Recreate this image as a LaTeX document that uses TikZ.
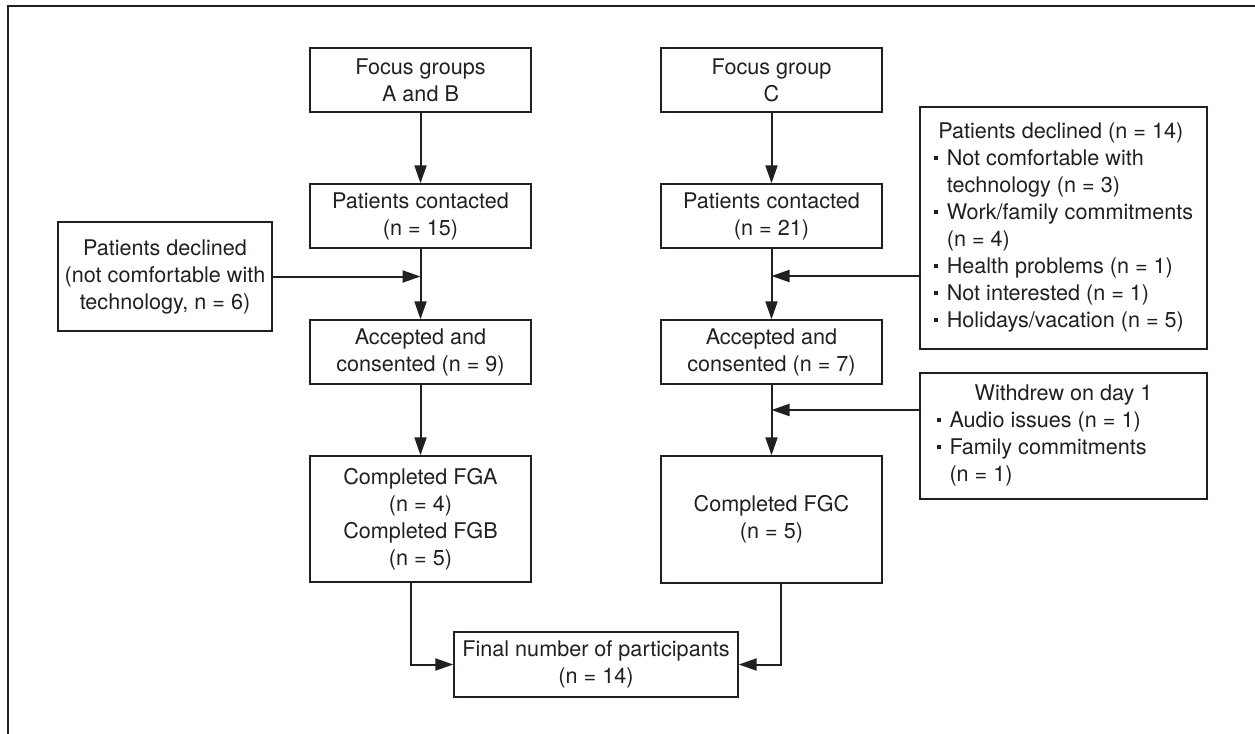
\documentclass[tikz,border=0pt]{standalone}
\usepackage{fontspec}
\setmainfont{TeX Gyre Heros}
\usepackage{tikz}
\usetikzlibrary{arrows.meta}
\definecolor{ink}{RGB}{35,31,32}
\newcommand{\bul}{\makebox[6.5pt][l]{\rule[2.8pt]{2pt}{2pt}}}
\newcommand{\ind}{\hspace*{6.5pt}}

\begin{document}
\begin{tikzpicture}[x=0.5pt, y=-0.5pt, node distance=68pt, color=ink, font=\fontsize{10.8}{13.5}\selectfont,
  box/.style={draw=ink, line width=0.7pt, minimum width=110.5pt, minimum height=32pt, inner sep=0pt, align=center},
  link/.style={line width=1pt, -{Triangle[length=9pt, width=6pt]}}]
  \useasboundingbox (0,0) rectangle (1255,734);
  \draw[line width=1pt] (8,734) -- (8,6) -- (1255,6);

  \node[box] (FG_AB) at (420.5,80) {Focus groups\\A and B};
  \node[box] (PC_1) [below of=FG_AB] {Patients contacted\\(n = 15)};
  \node[box] (AC_1) [below of=PC_1] {Accepted and\\consented (n = 9)};
  \node[box, minimum height=63pt, node distance=83.5pt] (CF_1) [below of=AC_1] {Completed FGA\\(n = 4)\\Completed FGB\\(n = 5)};
  \node[box, node distance=175.5pt] (FG_C) [right of=FG_AB] {Focus group\\C};
  \node[box] (PC_2) [below of=FG_C] {Patients contacted\\(n = 21)};
  \node[box] (AC_2) [below of=PC_2] {Accepted and\\consented (n = 7)};
  \node[box, minimum height=63.5pt, node distance=83.75pt] (CF_2) [below of=AC_2] {Completed FGC\\(n = 5)};
  \node[box, minimum width=107pt, minimum height=54.5pt, node distance=127.75pt] (PD_1) [left of=PC_1, yshift=-30.25pt] {Patients declined\\(not comfortable with\\technology, n = 6)};
  \node[box, minimum width=143.5pt, minimum height=121pt, node distance=146pt] (PD_2) [right of=PC_2, yshift=-6pt] {%
    \begin{tabular}{@{}l@{}}
      \makebox[127pt]{Patients declined (n = 14)}\\
      \bul Not comfortable with\\
      \ind technology (n = 3)\\
      \bul Work/family commitments\\
      \ind (n = 4)\\
      \bul Health problems (n = 1)\\
      \bul Not interested (n = 1)\\
      \bul Holidays/vacation (n = 5)
    \end{tabular}};
  \node[box, minimum width=143.5pt, minimum height=63pt, node distance=146pt] (WD) [right of=AC_2, yshift=-42pt] {%
    \begin{tabular}{@{}l@{}}
      \makebox[127pt]{Withdrew on day 1}\\
      \bul Audio issues (n = 1)\\
      \bul Family commitments\\
      \ind (n = 1)
    \end{tabular}};
  \node[box, minimum width=142pt, minimum height=32.5pt, node distance=72.75pt] (FN) [below of=CF_1, xshift=87.75pt] {Final number of participants\\(n = 14)};

  % main flow
  \draw[link] (FG_AB) -- (PC_1);
  \draw[link] (PC_1) -- (AC_1);
  \draw[link] (AC_1) -- (CF_1);
  \draw[link] (FG_C) -- (PC_2);
  \draw[link] (PC_2) -- (AC_2);
  \draw[link] (AC_2) -- (CF_2);

  % side boxes
  \draw[link] (PD_1.east) -- (PD_1.east -| PC_1.south);
  \coordinate (PD_2_in) at ([yshift=-24pt]PD_2.west);
  \draw[link] (PD_2_in) -- (PD_2_in -| PC_2.south);
  \coordinate (WD_in) at ([yshift=13pt]WD.west);
  \draw[link] (WD_in) -- (WD_in -| AC_2.south);

  % to final
  \draw[link] ([xshift=-4.75pt]CF_1.south) |- (FN.west);
  \draw[link] ([xshift=4.75pt]CF_2.south) |- (FN.east);
\end{tikzpicture}
\end{document}
